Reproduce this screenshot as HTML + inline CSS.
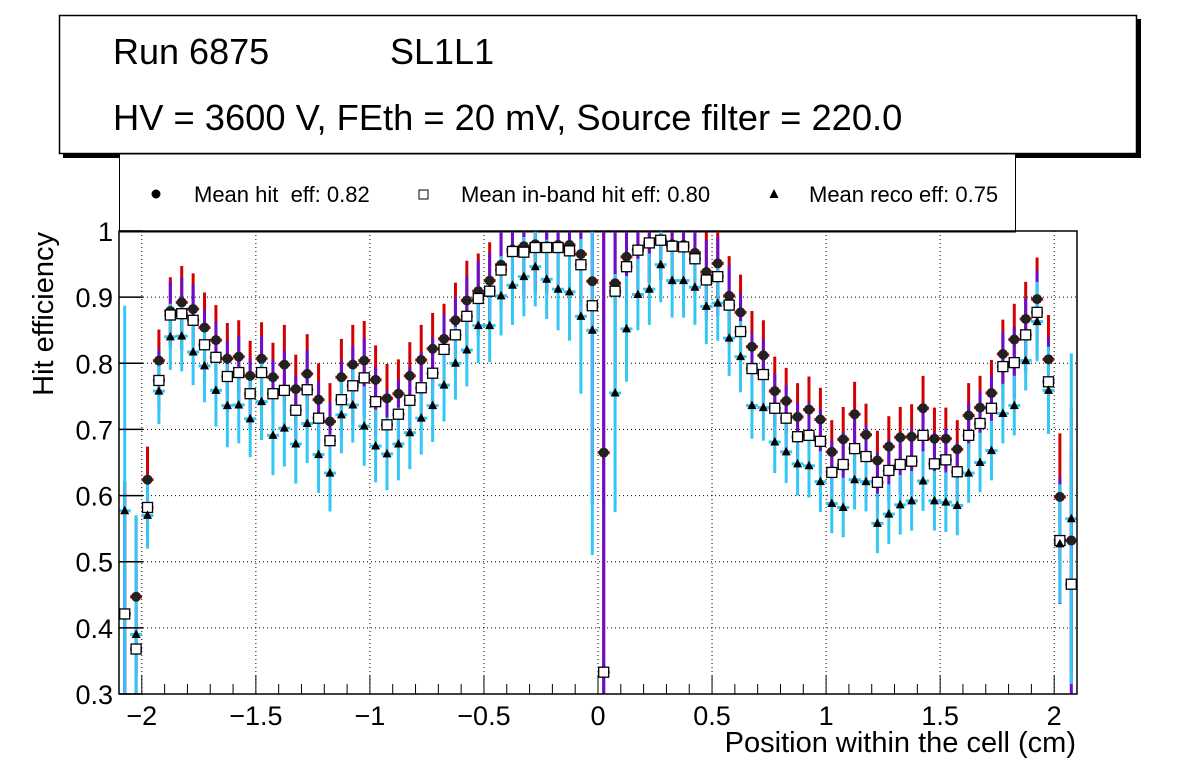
<!DOCTYPE html>
<html><head><meta charset="utf-8"><style>
html,body{margin:0;padding:0;background:#fff;overflow:hidden;width:1196px;height:772px;}
svg{display:block;font-family:"Liberation Sans",Arial,sans-serif;}
</style></head><body>
<svg id="chart" width="1196" height="772" viewBox="0 0 1196 772" xmlns="http://www.w3.org/2000/svg">
<rect x="0" y="0" width="1196" height="772" fill="#fff"/>
<g>
<rect x="63" y="19" width="1078" height="139" fill="#000"/>
<rect x="59.5" y="15.5" width="1077" height="138" fill="#fff" stroke="#000" stroke-width="1.5"/>
<text x="113" y="64" font-size="36">Run 6875</text>
<text x="390" y="64" font-size="36">SL1L1</text>
<text x="113" y="130" font-size="36.3">HV = 3600 V, FEth = 20 mV, Source filter = 220.0</text>
</g>
<g>
<rect x="119.5" y="154" width="896" height="78" fill="#fff" stroke="#000" stroke-width="1"/>
<circle cx="156" cy="194" r="4.5" fill="#000"/>
<text x="194" y="202" font-size="22" xml:space="preserve" style="white-space:pre">Mean hit  eff: 0.82</text>
<rect x="419" y="190" width="9" height="9" fill="#fff" stroke="#000" stroke-width="1"/>
<text x="461" y="202" font-size="22">Mean in-band hit eff: 0.80</text>
<polygon points="774,189 778.5,198 769.5,198" fill="#000"/>
<text x="809" y="202" font-size="22">Mean reco eff: 0.75</text>
</g>
<g id="plot"></g>
<text transform="translate(53,232) rotate(-90)" text-anchor="end" font-size="29">Hit efficiency</text>
<text x="1076" y="752" text-anchor="end" font-size="29">Position within the cell (cm)</text>
</svg>
<script>
const hitEff = [0.421,0.447,0.624,0.804,0.879,0.892,0.882,0.854,0.835,0.807,0.81,0.781,0.807,0.779,0.798,0.761,0.784,0.745,0.712,0.779,0.798,0.804,
0.775,0.747,0.754,0.781,0.805,0.822,0.837,0.865,0.895,0.909,0.925,0.949,0.972,0.977,0.98,0.977,0.979,0.979,0.965,0.924,0.665,
0.921,0.961,0.972,0.983,0.987,0.98,0.979,0.967,0.938,0.951,0.902,0.877,0.825,0.812,0.758,0.743,0.719,0.73,0.715,0.666,0.685,
0.723,0.692,0.653,0.674,0.688,0.689,0.732,0.686,0.686,0.67,0.721,0.733,0.755,0.814,0.836,0.867,0.897,0.806,0.598,0.532];
const inbandEff = [0.421,0.368,0.582,0.774,0.873,0.875,0.865,0.828,0.809,0.78,0.786,0.754,0.786,0.754,0.759,0.729,0.76,0.717,0.683,0.745,0.766,0.778,
0.742,0.707,0.723,0.744,0.763,0.785,0.821,0.843,0.871,0.898,0.909,0.941,0.969,0.968,0.975,0.975,0.975,0.97,0.949,0.887,0.333,
0.909,0.946,0.971,0.982,0.986,0.977,0.976,0.958,0.926,0.931,0.888,0.848,0.792,0.783,0.732,0.717,0.689,0.691,0.682,0.635,0.647,
0.671,0.659,0.62,0.638,0.647,0.652,0.691,0.648,0.654,0.636,0.691,0.709,0.732,0.795,0.801,0.843,0.877,0.772,0.532,0.466];
const recoEff = [0.577,0.39,0.57,0.758,0.84,0.841,0.817,0.796,0.759,0.736,0.737,0.716,0.742,0.691,0.702,0.678,0.709,0.662,0.634,0.722,0.737,0.705,
0.675,0.663,0.678,0.695,0.717,0.736,0.767,0.80,0.82,0.857,0.857,0.902,0.918,0.931,0.946,0.927,0.912,0.908,0.871,0.85,0.2,
0.755,0.852,0.904,0.912,0.949,0.925,0.925,0.915,0.886,0.891,0.838,0.81,0.736,0.733,0.681,0.666,0.648,0.645,0.621,0.588,0.582,
0.624,0.621,0.558,0.572,0.586,0.592,0.622,0.592,0.59,0.585,0.634,0.65,0.668,0.724,0.736,0.804,0.863,0.759,0.527,0.565];
const hitErr = [0.2,0.12,0.05,0.047,0.051,0.055,0.054,0.053,0.053,0.054,0.055,0.053,0.055,0.052,0.06,0.052,0.06,0.055,0.058,0.058,0.06,0.06,
0.052,0.052,0.052,0.051,0.053,0.054,0.053,0.057,0.06,0.057,0.058,0.06,0.065,0.07,0.07,0.07,0.07,0.075,0.08,0.3,0.7,
0.15,0.06,0.06,0.06,0.06,0.06,0.06,0.06,0.06,0.06,0.06,0.057,0.054,0.053,0.052,0.05,0.051,0.05,0.048,0.048,0.049,
0.049,0.047,0.045,0.046,0.046,0.049,0.049,0.047,0.047,0.044,0.049,0.048,0.05,0.052,0.054,0.056,0.063,0.067,0.096,0.2];
const recoErr = [0.31,0.18,0.05,0.05,0.05,0.053,0.05,0.055,0.055,0.063,0.058,0.058,0.058,0.06,0.058,0.06,0.06,0.058,0.058,0.058,0.057,0.06,
0.055,0.055,0.055,0.055,0.055,0.055,0.055,0.055,0.055,0.057,0.055,0.06,0.06,0.06,0.06,0.06,0.062,0.074,0.117,0.34,0,
0.18,0.08,0.054,0.054,0.057,0.056,0.056,0.057,0.057,0.057,0.057,0.054,0.05,0.05,0.047,0.047,0.048,0.048,0.046,0.045,0.045,
0.045,0.045,0.045,0.045,0.045,0.045,0.045,0.045,0.045,0.045,0.045,0.045,0.045,0.045,0.045,0.045,0.06,0.066,0.09,0.25];
const xTicks = [-2,-1.5,-1,-0.5,0,0.5,1,1.5,2];
const xTickLabels = ["\u22122","\u22121.5","\u22121","\u22120.5","0","0.5","1","1.5","2"];
const yTicks = [0.3,0.4,0.5,0.6,0.7,0.8,0.9,1];
const yTickLabels = ["0.3","0.4","0.5","0.6","0.7","0.8","0.9","1"];

const X0=119, X1=1077, Y0=694, Y1=231;
const xMin=-2.1, xMax=2.1, yMin=0.3, yMax=1.0;
const BIN=0.05;
const xs = v => X0 + (v-xMin)/(xMax-xMin)*(X1-X0);
const ys = v => Y0 - (v-yMin)/(yMax-yMin)*(Y0-Y1);
const NS="http://www.w3.org/2000/svg";
const plot=document.getElementById('plot');
function mk(tag,attrs,parent){const e=document.createElementNS(NS,tag);for(const k in attrs)e.setAttribute(k,attrs[k]);(parent||plot).appendChild(e);return e;}

const defs=mk('defs',{});
const cp=mk('clipPath',{id:'clip'},defs);
mk('rect',{x:X0,y:Y1,width:X1-X0,height:Y0-Y1},cp);

const grid=mk('g',{});


xTicks.forEach(t=>{const l=mk('line',{x1:xs(t),x2:xs(t),y1:Y1,y2:Y0,stroke:'#000','stroke-width':1,'stroke-dasharray':'1,3'},grid);

});
yTicks.forEach(t=>{const l=mk('line',{x1:X0,x2:X1,y1:ys(t),y2:ys(t),stroke:'#000','stroke-width':1,'stroke-dasharray':'1,3'},grid);

});

const data=mk('g',{'clip-path':'url(#clip)'});


const n=hitEff.length;
const centers=[];for(let k=0;k<n;k++)centers.push(xMin+BIN/2+BIN*k);
function errbar(k,val,err,color){
  const cx=xs(centers[k]);
  const g=mk('line',{x1:cx,x2:cx,y1:ys(val+err),y2:ys(val-err),stroke:color,'stroke-width':3},data);
  mk('line',{x1:cx-6,x2:cx+6,y1:ys(val),y2:ys(val),stroke:color,'stroke-width':3},data);
  return g;
}
for(let k=0;k<n;k++){const e=errbar(k,hitEff[k],hitErr[k],'#d40000');

}
for(let k=0;k<n;k++){const e=errbar(k,inbandEff[k],hitErr[k],'#6a0dcc');

}
for(let k=0;k<n;k++){const e=errbar(k,recoEff[k],recoErr[k],'#33c7f5');

}
for(let k=0;k<n;k++){const c=mk('circle',{cx:xs(centers[k]),cy:ys(hitEff[k]),r:5,fill:'#222'},data);

}
for(let k=0;k<n;k++){const r=mk('rect',{x:xs(centers[k])-5,y:ys(inbandEff[k])-5,width:10,height:10,fill:'#fff',stroke:'#000','stroke-width':1.3},data);

}
for(let k=0;k<n;k++){const cx=xs(centers[k]),cy=ys(recoEff[k]);
const p=mk('polygon',{points:`${cx},${cy-5} ${cx+4.5},${cy+3.5} ${cx-4.5},${cy+3.5}`,fill:'#000'},data);

}

const fr=mk('rect',{x:X0,y:Y1,width:X1-X0,height:Y0-Y1,fill:'none',stroke:'#000','stroke-width':1.5});



for(let v=-2.1;v<=2.1001;v+=0.1){const t=Math.round(v*10)/10;const major=Math.abs(t*2-Math.round(t*2))<1e-6;
mk('line',{x1:xs(t),x2:xs(t),y1:Y0,y2:Y0-(major?19:10),stroke:'#000','stroke-width':1});}
xTicks.forEach((t,i)=>{const tx=mk('text',{x:xs(t),y:725,'text-anchor':'middle','font-size':27});tx.textContent=xTickLabels[i];

});
yTicks.forEach((t,i)=>{mk('line',{x1:X0,x2:X0+24,y1:ys(t),y2:ys(t),stroke:'#000','stroke-width':1.5});
const tx=mk('text',{x:113,y:ys(t)+10,'text-anchor':'end','font-size':27});tx.textContent=yTickLabels[i];

});
</script>
</body></html>
